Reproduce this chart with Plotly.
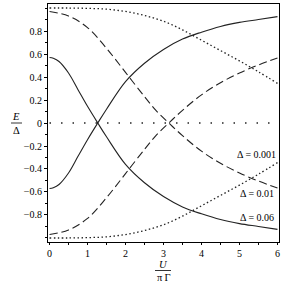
import plotly.graph_objects as go

# U/(pi Gamma) grids and E/Delta values
u_006 = [0, 0.1, 0.25, 0.5, 0.75, 1.0, 1.27, 1.5, 2.0, 2.5, 3.0, 3.5, 4.0, 4.5, 5.0, 5.5, 6.0]
e_006_a = [0.57, 0.563, 0.535, 0.435, 0.29, 0.145, 0.0, -0.12, -0.36, -0.52, -0.64, -0.73, -0.79, -0.84, -0.875, -0.90, -0.925]
e_006_b = [-0.57, -0.563, -0.535, -0.435, -0.29, -0.145, 0.0, 0.12, 0.36, 0.52, 0.64, 0.73, 0.79, 0.84, 0.875, 0.90, 0.925]

u_001 = [0, 0.5, 1.0, 1.5, 2.0, 2.5, 2.8, 3.14, 3.5, 4.0, 4.5, 5.0, 5.5, 6.0]
e_001_a = [0.97, 0.93, 0.83, 0.65, 0.44, 0.23, 0.11, 0.0, -0.11, -0.245, -0.35, -0.435, -0.505, -0.565]
e_001_b = [-0.97, -0.93, -0.83, -0.65, -0.44, -0.23, -0.11, 0.0, 0.11, 0.245, 0.35, 0.435, 0.505, 0.565]

u_0001 = [0, 0.5, 1.0, 1.5, 2.0, 2.5, 3.0, 3.5, 4.0, 4.5, 5.0, 5.5, 6.0]
e_0001_a = [1.0, 1.0, 0.997, 0.99, 0.97, 0.935, 0.885, 0.81, 0.72, 0.63, 0.54, 0.445, 0.345]
e_0001_b = [-1.0, -1.0, -0.997, -0.99, -0.97, -0.935, -0.885, -0.81, -0.72, -0.63, -0.54, -0.445, -0.345]

zero_u = [0, 5.8]
zero_e = [0, 0]

y_ticks = [-0.8, -0.6, -0.4, -0.2, 0, 0.2, 0.4, 0.6, 0.8]
y_ticktext = ["\u22120.8", "\u22120.6", "\u22120.4", "\u22120.2", "0", "0.2", "0.4", "0.6", "0.8"]
x_ticks = [0, 1, 2, 3, 4, 5, 6]

labels = ["\u0394 = 0.001", "\u0394 = 0.01", "\u0394 = 0.06"]
label_x = [5.45, 5.45, 5.45]
label_y = [-0.27, -0.615, -0.82]

col = "#222222"
font = "Liberation Serif"

W, H = 284, 284
L, R, T, B = 48, 5, 4, 42
pw, ph = W - L - R, H - T - B


def px(xp):
    return (xp - L) / pw


def py(yp):
    return (H - B - yp) / ph


fig = go.Figure()
fig.add_trace(go.Scatter(x=zero_u, y=zero_e, mode="lines",
                         line=dict(color=col, width=1.5, dash="1.5px,10px")))
for e in (e_006_a, e_006_b):
    fig.add_trace(go.Scatter(x=u_006, y=e, mode="lines", line_shape="spline",
                             line=dict(color=col, width=1.1)))
for e in (e_001_a, e_001_b):
    fig.add_trace(go.Scatter(x=u_001, y=e, mode="lines", line_shape="spline",
                             line=dict(color=col, width=1.1, dash="8px,4px")))
for e in (e_0001_a, e_0001_b):
    fig.add_trace(go.Scatter(x=u_0001, y=e, mode="lines", line_shape="spline",
                             line=dict(color=col, width=1.3, dash="1.5px,2.5px")))

for t, x, y in zip(labels, label_x, label_y):
    fig.add_annotation(x=x, y=y, xref="x", yref="y", text=t, showarrow=False,
                       xanchor="center", yanchor="middle",
                       font=dict(family=font, size=10, color="black"))

# axis titles as stacked fractions (pixel positions -> paper coords)
for t, xp, yp in [("<i>E</i>", 16, 116), ("\u0394", 16, 130),
                  ("<i>U</i>", 163, 264.5), ("\u03c0\u2009\u0393", 163, 277)]:
    fig.add_annotation(x=px(xp), y=py(yp), xref="paper", yref="paper", text=t,
                       showarrow=False, xanchor="center", yanchor="middle",
                       borderpad=0,
                       font=dict(family=font, size=10.5, color="black"))

fig.add_shape(type="line", xref="paper", yref="paper",
              x0=px(11), x1=px(22), y0=py(123), y1=py(123),
              line=dict(color="black", width=0.8))
fig.add_shape(type="line", xref="paper", yref="paper",
              x0=px(155), x1=px(171), y0=py(270.5), y1=py(270.5),
              line=dict(color="black", width=0.8))

fig.update_layout(
    width=W, height=H,
    margin=dict(l=L, r=R, t=T, b=B, autoexpand=False),
    paper_bgcolor="white", plot_bgcolor="white",
    showlegend=False,
    font=dict(family=font, size=10, color="black"),
)
fig.update_xaxes(range=[-0.04, 6.04], tickvals=x_ticks, showgrid=False, zeroline=False,
                 showline=True, linecolor="black", linewidth=1, mirror=True,
                 ticks="outside", ticklen=2, tickcolor="black", tickwidth=1,
                 minor=dict(dtick=0.5, tick0=0, ticks="outside", ticklen=2, tickcolor="black"),
                 tickfont=dict(family=font, size=10))
fig.update_yaxes(range=[-1.035, 1.035], tickvals=y_ticks, ticktext=y_ticktext,
                 showgrid=False, zeroline=False,
                 showline=True, linecolor="black", linewidth=1, mirror=True,
                 ticks="outside", ticklen=3, tickcolor="black", tickwidth=1,
                 minor=dict(dtick=0.1, tick0=0, ticks="outside", ticklen=2, tickcolor="black"),
                 tickfont=dict(family=font, size=10))

fig.write_html("out.html", config={"displayModeBar": False},
               post_script="document.body.style.margin='0';")
